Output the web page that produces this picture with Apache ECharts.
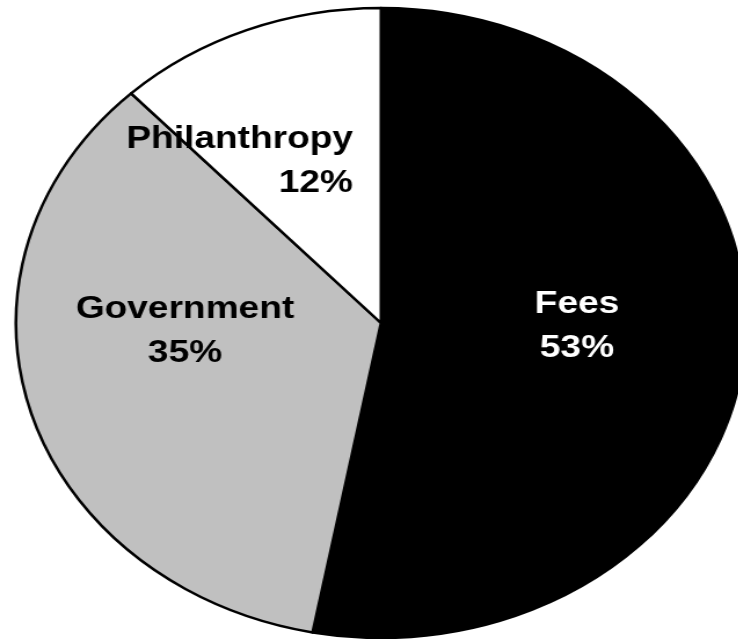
<!DOCTYPE html>
<html>
<head>
<meta charset="utf-8">
<script src="https://cdn.jsdelivr.net/npm/echarts@6/dist/echarts.min.js"></script>
<style>
  html, body { margin: 0; padding: 0; background: #fff; overflow: hidden; }
  /* the original pie is an ellipse, so the chart is stretched sideways */
  #chart {
    width: 637px;
    height: 639px;
    transform: scaleX(1.159);
    transform-origin: 0 0;
  }
</style>
</head>
<body>
<div id="chart"></div>
<script>
// data
var categories = ["Fees", "Government", "Philanthropy"];
var shares = [53, 35, 12];
var sliceColors = ["#000000", "#c0c0c0", "#ffffff"];
var labelColors = ["#ffffff", "#000000", "#000000"];

var SX = 1.159;
// label anchors in screen pixels (before the stretch)
var labelPos = [
  { x: 577, y: 326, align: "center" },
  { x: 185, y: 331, align: "center" },
  { x: 353, y: 161, align: "right" }
];

var chart = echarts.init(document.getElementById("chart"));
chart.setOption({
  animation: false,
  series: [
    {
      type: "pie",
      center: [381 / SX, 323],
      radius: 315,
      startAngle: 90,
      clockwise: true,
      silent: true,
      itemStyle: {
        borderColor: "#000",
        borderWidth: 2.5
      },
      label: {
        show: true,
        position: "inside",
        formatter: "{b}\n{c}%",
        fontFamily: "Liberation Sans, Arial, sans-serif",
        fontWeight: "bold",
        fontSize: 32,
        lineHeight: 44
      },
      labelLine: { show: false },
      labelLayout: function (params) {
        var p = labelPos[params.dataIndex];
        return {
          x: p.x / SX,
          y: p.y,
          align: p.align,
          verticalAlign: "middle"
        };
      },
      data: categories.map(function (name, i) {
        return {
          name: name,
          value: shares[i],
          itemStyle: { color: sliceColors[i] },
          label: { color: labelColors[i] }
        };
      })
    }
  ]
});
</script>
</body>
</html>
